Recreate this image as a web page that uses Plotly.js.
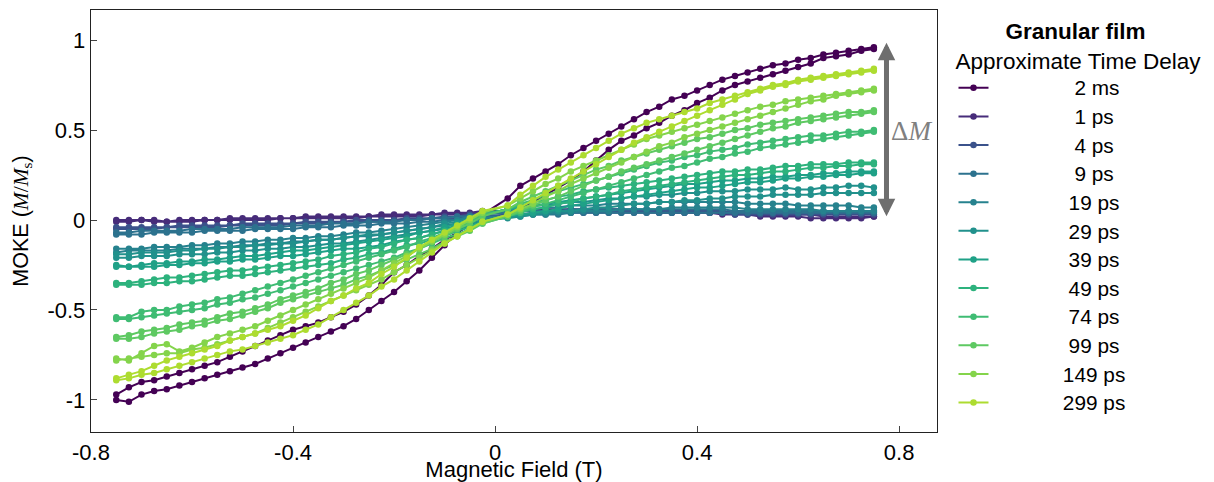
<!DOCTYPE html>
<html><head><meta charset="utf-8">
<script src="https://cdn.plot.ly/plotly-3.0.1.min.js"></script>
<style>html,body{margin:0;padding:0;background:#fff}#chart{width:1214px;height:482px}</style>
</head><body><div id="chart"></div>
<script>
// Magnetic field grid (T), shared by every loop; ascending order (no point at 0)
const field = [-0.75,-0.725,-0.7,-0.675,-0.65,-0.625,-0.6,-0.575,-0.55,-0.525,-0.5,-0.475,-0.45,-0.425,-0.4,-0.375,-0.35,-0.325,-0.3,-0.275,-0.25,-0.225,-0.2,-0.175,-0.15,-0.125,-0.1,-0.075,-0.05,-0.025,
  0.025,0.05,0.075,0.1,0.125,0.15,0.175,0.2,0.225,0.25,0.275,0.3,0.325,0.35,0.375,0.4,0.425,0.45,0.475,0.5,0.525,0.55,0.575,0.6,0.625,0.65,0.675,0.7,0.725,0.75];

const delays = ['2 ms','1 ps','4 ps','9 ps','19 ps','29 ps','39 ps','49 ps','74 ps','99 ps','149 ps','299 ps'];
const colors = ['#440154','#472c7a','#3b528b','#2c728e','#26828e','#21918c','#1fa187','#2db27d','#3fbc73','#5ec962','#84d44b','#addc30'];

// Each loop: branch A and branch B, values listed in ascending field order
const a_2ms = [-1.00,-1.01,-0.97,-0.95,-0.94,-0.92,-0.90,-0.88,-0.86,-0.84,-0.82,-0.80,-0.77,-0.74,-0.71,-0.68,-0.65,-0.62,-0.59,-0.55,-0.50,-0.45,-0.40,-0.34,-0.28,-0.21,-0.14,-0.07,-0.02,0.03,
  0.12,0.19,0.23,0.27,0.31,0.36,0.40,0.44,0.48,0.52,0.56,0.60,0.63,0.67,0.69,0.72,0.75,0.78,0.80,0.82,0.84,0.86,0.87,0.89,0.90,0.92,0.93,0.94,0.95,0.96];
const b_2ms = [-0.97,-0.93,-0.90,-0.89,-0.87,-0.85,-0.83,-0.81,-0.79,-0.76,-0.73,-0.70,-0.67,-0.64,-0.61,-0.59,-0.57,-0.54,-0.51,-0.47,-0.42,-0.36,-0.29,-0.25,-0.20,-0.16,-0.11,-0.07,-0.03,0.00,
  0.03,0.06,0.10,0.14,0.18,0.22,0.27,0.33,0.39,0.44,0.47,0.51,0.54,0.58,0.61,0.65,0.68,0.72,0.75,0.77,0.79,0.81,0.83,0.85,0.87,0.90,0.91,0.92,0.94,0.95];
const a_1ps = [0.00,0.00,0.00,0.00,-0.01,0.00,0.00,0.00,0.00,0.01,0.01,0.01,0.01,0.01,0.01,0.02,0.02,0.02,0.02,0.02,0.02,0.03,0.03,0.03,0.03,0.03,0.04,0.04,0.04,0.05,
  0.05,0.06,0.06,0.06,0.06,0.06,0.06,0.06,0.06,0.06,0.05,0.05,0.05,0.05,0.05,0.05,0.04,0.04,0.04,0.04,0.03,0.03,0.03,0.03,0.03,0.02,0.02,0.02,0.02,0.02];
const b_1ps = [-0.01,-0.01,0.00,-0.01,-0.01,-0.01,-0.01,0.00,0.00,0.00,0.00,0.00,0.00,0.01,0.01,0.01,0.01,0.01,0.01,0.01,0.02,0.02,0.02,0.02,0.02,0.03,0.03,0.03,0.03,0.04,
  0.04,0.05,0.05,0.05,0.05,0.05,0.05,0.05,0.05,0.05,0.05,0.05,0.04,0.04,0.04,0.04,0.04,0.03,0.03,0.03,0.02,0.02,0.02,0.02,0.01,0.01,0.01,0.01,0.01,0.02];
const a_4ps = [-0.04,-0.04,-0.04,-0.04,-0.04,-0.03,-0.03,-0.03,-0.03,-0.03,-0.02,-0.02,-0.02,-0.02,-0.02,-0.01,-0.01,-0.01,-0.01,0.00,0.00,0.00,0.00,0.01,0.01,0.01,0.02,0.02,0.03,0.03,
  0.05,0.05,0.05,0.05,0.05,0.05,0.05,0.05,0.05,0.05,0.05,0.05,0.05,0.05,0.05,0.05,0.05,0.05,0.04,0.04,0.04,0.04,0.04,0.04,0.04,0.04,0.04,0.04,0.04,0.04];
const b_4ps = [-0.05,-0.05,-0.05,-0.05,-0.04,-0.04,-0.04,-0.04,-0.04,-0.03,-0.03,-0.03,-0.03,-0.03,-0.02,-0.02,-0.02,-0.02,-0.01,-0.01,-0.01,-0.01,0.00,0.00,0.00,0.01,0.01,0.01,0.02,0.02,
  0.03,0.03,0.04,0.04,0.04,0.04,0.04,0.04,0.04,0.04,0.04,0.04,0.04,0.04,0.04,0.04,0.04,0.04,0.03,0.03,0.03,0.03,0.03,0.03,0.03,0.03,0.03,0.03,0.03,0.03];
const a_9ps = [-0.07,-0.07,-0.06,-0.06,-0.06,-0.06,-0.05,-0.05,-0.05,-0.05,-0.04,-0.04,-0.04,-0.04,-0.03,-0.03,-0.03,-0.02,-0.02,-0.02,-0.01,-0.01,-0.01,0.00,0.00,0.01,0.01,0.02,0.02,0.03,
  0.04,0.05,0.05,0.05,0.05,0.06,0.06,0.06,0.06,0.06,0.06,0.06,0.06,0.06,0.06,0.06,0.06,0.06,0.05,0.05,0.05,0.05,0.05,0.05,0.05,0.05,0.05,0.05,0.05,0.05];
const b_9ps = [-0.08,-0.08,-0.08,-0.07,-0.07,-0.07,-0.07,-0.06,-0.06,-0.06,-0.06,-0.05,-0.05,-0.05,-0.05,-0.04,-0.04,-0.04,-0.03,-0.03,-0.03,-0.02,-0.02,-0.02,-0.01,-0.01,0.00,0.00,0.01,0.02,
  0.02,0.03,0.03,0.03,0.03,0.04,0.04,0.04,0.04,0.04,0.04,0.04,0.04,0.04,0.04,0.04,0.04,0.04,0.04,0.04,0.04,0.04,0.04,0.04,0.04,0.04,0.04,0.04,0.04,0.04];
const a_19ps = [-0.16,-0.16,-0.16,-0.15,-0.15,-0.15,-0.14,-0.14,-0.13,-0.13,-0.12,-0.12,-0.11,-0.11,-0.10,-0.10,-0.09,-0.09,-0.08,-0.07,-0.07,-0.06,-0.05,-0.04,-0.03,-0.02,-0.01,0.00,0.02,0.04,
  0.05,0.06,0.06,0.07,0.07,0.08,0.08,0.08,0.09,0.09,0.09,0.09,0.10,0.10,0.10,0.10,0.10,0.10,0.10,0.09,0.09,0.09,0.09,0.08,0.08,0.08,0.08,0.08,0.07,0.07];
const b_19ps = [-0.18,-0.17,-0.17,-0.17,-0.17,-0.16,-0.16,-0.16,-0.15,-0.15,-0.14,-0.14,-0.13,-0.13,-0.12,-0.12,-0.11,-0.11,-0.10,-0.09,-0.09,-0.08,-0.07,-0.06,-0.05,-0.04,-0.03,-0.02,-0.01,0.01,
  0.02,0.02,0.03,0.03,0.04,0.04,0.05,0.05,0.05,0.06,0.06,0.06,0.06,0.07,0.07,0.07,0.07,0.07,0.07,0.06,0.06,0.06,0.06,0.06,0.06,0.05,0.05,0.05,0.05,0.05];
const a_29ps = [-0.19,-0.19,-0.18,-0.18,-0.18,-0.17,-0.17,-0.16,-0.16,-0.15,-0.15,-0.14,-0.14,-0.13,-0.13,-0.12,-0.11,-0.11,-0.10,-0.09,-0.08,-0.08,-0.07,-0.06,-0.05,-0.04,-0.02,-0.01,0.01,0.03,
  0.06,0.07,0.08,0.08,0.09,0.10,0.10,0.11,0.12,0.12,0.13,0.13,0.14,0.14,0.15,0.15,0.16,0.16,0.16,0.17,0.17,0.17,0.18,0.17,0.17,0.18,0.18,0.19,0.19,0.18];
const b_29ps = [-0.21,-0.21,-0.20,-0.20,-0.20,-0.19,-0.19,-0.19,-0.18,-0.18,-0.17,-0.17,-0.16,-0.16,-0.15,-0.15,-0.14,-0.13,-0.13,-0.12,-0.11,-0.10,-0.09,-0.08,-0.07,-0.06,-0.05,-0.03,-0.02,0.00,
  0.01,0.02,0.03,0.04,0.05,0.05,0.06,0.07,0.07,0.08,0.09,0.09,0.10,0.10,0.11,0.11,0.12,0.12,0.13,0.13,0.13,0.14,0.14,0.14,0.14,0.15,0.15,0.15,0.15,0.15];
const a_39ps = [-0.25,-0.26,-0.25,-0.24,-0.24,-0.23,-0.23,-0.22,-0.22,-0.21,-0.20,-0.20,-0.19,-0.18,-0.17,-0.17,-0.16,-0.15,-0.14,-0.13,-0.12,-0.11,-0.10,-0.09,-0.07,-0.06,-0.04,-0.02,0.00,0.03,
  0.06,0.07,0.08,0.09,0.10,0.11,0.12,0.13,0.14,0.15,0.16,0.17,0.18,0.19,0.20,0.20,0.21,0.22,0.22,0.23,0.23,0.24,0.24,0.25,0.25,0.26,0.26,0.27,0.27,0.27];
const b_39ps = [-0.26,-0.26,-0.26,-0.26,-0.25,-0.25,-0.24,-0.24,-0.23,-0.23,-0.22,-0.22,-0.21,-0.20,-0.20,-0.19,-0.18,-0.17,-0.16,-0.16,-0.15,-0.14,-0.12,-0.11,-0.10,-0.08,-0.06,-0.05,-0.03,-0.01,
  0.02,0.03,0.04,0.05,0.06,0.08,0.09,0.10,0.11,0.12,0.13,0.14,0.15,0.16,0.17,0.18,0.18,0.19,0.20,0.21,0.21,0.22,0.23,0.23,0.24,0.24,0.25,0.25,0.26,0.26];
const a_49ps = [-0.35,-0.35,-0.34,-0.33,-0.32,-0.32,-0.31,-0.30,-0.29,-0.28,-0.28,-0.27,-0.26,-0.25,-0.24,-0.23,-0.22,-0.20,-0.19,-0.18,-0.16,-0.15,-0.13,-0.11,-0.10,-0.08,-0.06,-0.03,-0.01,0.03,
  0.06,0.08,0.10,0.11,0.13,0.14,0.16,0.17,0.18,0.19,0.20,0.21,0.22,0.23,0.24,0.25,0.26,0.27,0.27,0.28,0.28,0.29,0.30,0.30,0.31,0.31,0.31,0.32,0.32,0.32];
const b_49ps = [-0.36,-0.36,-0.36,-0.35,-0.35,-0.34,-0.34,-0.33,-0.32,-0.31,-0.31,-0.30,-0.29,-0.28,-0.27,-0.26,-0.25,-0.24,-0.22,-0.21,-0.19,-0.18,-0.16,-0.14,-0.13,-0.11,-0.09,-0.06,-0.04,-0.01,
  0.02,0.04,0.06,0.07,0.09,0.10,0.12,0.13,0.14,0.16,0.17,0.18,0.19,0.20,0.21,0.22,0.23,0.24,0.25,0.25,0.26,0.27,0.27,0.28,0.29,0.29,0.30,0.30,0.31,0.31];
const a_74ps = [-0.54,-0.54,-0.51,-0.50,-0.50,-0.48,-0.47,-0.46,-0.44,-0.43,-0.41,-0.39,-0.37,-0.35,-0.33,-0.31,-0.29,-0.27,-0.25,-0.23,-0.21,-0.19,-0.17,-0.15,-0.12,-0.10,-0.07,-0.04,-0.01,0.03,
  0.06,0.09,0.11,0.14,0.16,0.18,0.20,0.22,0.24,0.26,0.28,0.30,0.32,0.33,0.35,0.36,0.38,0.39,0.40,0.42,0.43,0.44,0.45,0.46,0.47,0.47,0.48,0.49,0.49,0.50];
const b_74ps = [-0.55,-0.55,-0.54,-0.53,-0.52,-0.51,-0.50,-0.49,-0.47,-0.46,-0.44,-0.43,-0.41,-0.39,-0.37,-0.35,-0.33,-0.31,-0.29,-0.27,-0.25,-0.23,-0.21,-0.18,-0.16,-0.13,-0.10,-0.08,-0.05,-0.02,
  0.02,0.04,0.07,0.09,0.11,0.13,0.15,0.17,0.19,0.21,0.23,0.25,0.27,0.29,0.30,0.32,0.34,0.35,0.37,0.38,0.40,0.41,0.42,0.43,0.44,0.45,0.46,0.47,0.48,0.49];
const a_99ps = [-0.65,-0.64,-0.62,-0.61,-0.60,-0.58,-0.57,-0.56,-0.54,-0.52,-0.51,-0.49,-0.47,-0.44,-0.42,-0.40,-0.38,-0.35,-0.33,-0.30,-0.28,-0.25,-0.22,-0.19,-0.16,-0.12,-0.09,-0.05,-0.02,0.02,
  0.06,0.10,0.13,0.16,0.19,0.22,0.25,0.28,0.30,0.33,0.35,0.37,0.39,0.41,0.43,0.45,0.46,0.48,0.50,0.51,0.53,0.54,0.55,0.56,0.57,0.58,0.59,0.60,0.60,0.61];
const b_99ps = [-0.66,-0.66,-0.65,-0.63,-0.62,-0.61,-0.59,-0.58,-0.56,-0.55,-0.53,-0.51,-0.49,-0.46,-0.44,-0.42,-0.40,-0.38,-0.36,-0.33,-0.31,-0.28,-0.25,-0.22,-0.19,-0.16,-0.12,-0.09,-0.06,-0.02,
  0.02,0.05,0.08,0.11,0.13,0.16,0.19,0.22,0.24,0.27,0.29,0.31,0.33,0.35,0.37,0.39,0.41,0.43,0.45,0.47,0.49,0.51,0.52,0.54,0.55,0.56,0.57,0.58,0.59,0.60];
const a_149ps = [-0.77,-0.78,-0.74,-0.70,-0.69,-0.73,-0.71,-0.68,-0.65,-0.63,-0.61,-0.59,-0.56,-0.53,-0.50,-0.47,-0.44,-0.41,-0.38,-0.35,-0.32,-0.28,-0.24,-0.20,-0.16,-0.12,-0.08,-0.04,0.00,0.04,
  0.08,0.12,0.16,0.20,0.23,0.27,0.30,0.33,0.36,0.39,0.42,0.45,0.47,0.49,0.51,0.53,0.55,0.57,0.59,0.61,0.63,0.64,0.66,0.67,0.68,0.69,0.70,0.71,0.72,0.73];
const b_149ps = [-0.78,-0.77,-0.76,-0.75,-0.74,-0.74,-0.72,-0.71,-0.69,-0.67,-0.65,-0.63,-0.60,-0.57,-0.54,-0.51,-0.48,-0.45,-0.42,-0.39,-0.36,-0.33,-0.29,-0.25,-0.21,-0.17,-0.13,-0.09,-0.05,-0.01,
  0.03,0.06,0.09,0.13,0.16,0.20,0.23,0.26,0.29,0.32,0.35,0.38,0.41,0.43,0.46,0.48,0.50,0.52,0.54,0.56,0.58,0.60,0.62,0.64,0.66,0.67,0.69,0.70,0.71,0.72];
const a_299ps = [-0.88,-0.86,-0.84,-0.81,-0.78,-0.76,-0.74,-0.72,-0.70,-0.67,-0.65,-0.63,-0.61,-0.59,-0.56,-0.53,-0.49,-0.45,-0.42,-0.38,-0.35,-0.30,-0.26,-0.21,-0.15,-0.11,-0.07,-0.03,0.01,0.05,
  0.08,0.14,0.19,0.24,0.28,0.32,0.36,0.40,0.44,0.48,0.51,0.54,0.56,0.58,0.60,0.62,0.65,0.67,0.69,0.71,0.73,0.75,0.76,0.78,0.79,0.80,0.81,0.82,0.83,0.84];
const b_299ps = [-0.89,-0.88,-0.86,-0.85,-0.83,-0.81,-0.79,-0.77,-0.75,-0.73,-0.72,-0.70,-0.68,-0.66,-0.64,-0.61,-0.58,-0.54,-0.50,-0.46,-0.42,-0.37,-0.33,-0.28,-0.23,-0.18,-0.13,-0.09,-0.05,-0.01,
  0.03,0.07,0.11,0.15,0.19,0.23,0.27,0.31,0.35,0.39,0.43,0.46,0.49,0.52,0.55,0.58,0.61,0.64,0.67,0.70,0.72,0.74,0.75,0.77,0.78,0.79,0.80,0.81,0.82,0.83];

const branchA = [a_2ms,a_1ps,a_4ps,a_9ps,a_19ps,a_29ps,a_39ps,a_49ps,a_74ps,a_99ps,a_149ps,a_299ps];
const branchB = [b_2ms,b_1ps,b_4ps,b_9ps,b_19ps,b_29ps,b_39ps,b_49ps,b_74ps,b_99ps,b_149ps,b_299ps];

const xTickVals = [-0.8,-0.4,0,0.4,0.8];
const xTickText = ['-0.8','-0.4','0','0.4','0.8'];
const yTickVals = [-1,-0.5,0,0.5,1];
const yTickText = ['-1','-0.5','0','0.5','1'];

const legendTitle1 = 'Granular film';
const legendTitle2 = 'Approximate Time Delay';

const FONT = '"Liberation Sans", Arial, Helvetica, sans-serif';
const SERIF = '"Liberation Serif", "Times New Roman", serif';
const LEG_SIZE = 19.7;   // sets the legend row pitch
const LABEL_SIZE = 20.8; // drawn size of legend labels
const TITLE_SIZE = 22.5;

// centre the legend labels / title by padding with no-break spaces
const ctx = document.createElement('canvas').getContext('2d');
function textW(s, font){ ctx.font = font; return ctx.measureText(s).width; }
function centred(s){
  const f = LABEL_SIZE + 'px "Liberation Sans"';
  const w = textW(s, f), nb = textW('\u00a0', f) || LABEL_SIZE*0.278;
  const n = Math.max(0, Math.round((102 - w/2)/nb));
  return '<span style="font-size:' + LABEL_SIZE + 'px">' + '\u00a0'.repeat(n) + s + '</span>';
}
const tW1 = textW(legendTitle1, 'bold ' + TITLE_SIZE + 'px "Liberation Sans"');
const tW2 = textW(legendTitle2, TITLE_SIZE + 'px "Liberation Sans"');
const tNb = textW('\u00a0', 'bold ' + TITLE_SIZE + 'px "Liberation Sans"') || TITLE_SIZE*0.278;
const titlePad = '\u00a0'.repeat(Math.max(0, Math.round((tW2 - tW1)/2/tNb)));

const rev = a => a.slice().reverse();
const traces = delays.map((d,i)=>({
  type:'scatter', mode:'lines+markers',
  x: field.concat(rev(field)),
  y: branchA[i].concat(rev(branchB[i])),
  name: centred(d),
  line:{color:colors[i], width:2},
  marker:{color:colors[i], size:6.5},
  hoverinfo:'skip'
}));

const axisCommon = {
  ticks:'inside', ticklen:6, tickwidth:1, tickcolor:'#444',
  showline:true, linecolor:'#222', linewidth:1.3, mirror:true,
  showgrid:false, zeroline:false,
  tickfont:{family:FONT, size:22, color:'#000'}
};

const layout = {
  width:1214, height:482,
  margin:{l:91, r:277, t:10, b:50, pad:0},
  paper_bgcolor:'#ffffff', plot_bgcolor:'#ffffff',
  font:{family:FONT, size:21, color:'#000'},
  showlegend:true,
  xaxis:Object.assign({}, axisCommon, {
    range:[-0.8,0.875], tickmode:'array', tickvals:xTickVals, ticktext:xTickText,
    title:{text:'Magnetic Field (T)', standoff:0, font:{family:FONT, size:22, color:'#000'}}
  }),
  yaxis:Object.assign({}, axisCommon, {
    range:[-1.178,1.167], tickmode:'array', tickvals:yTickVals, ticktext:yTickText,
    title:{text:'MOKE (<span style="font-family:\'Liberation Serif\'"><i>M</i>/<i>M</i><sub>s</sub></span>)', standoff:13, font:{family:FONT, size:21.5, color:'#000'}}
  }),
  legend:{
    x:1.0195, xanchor:'left', y:1, yanchor:'top',
    bgcolor:'rgba(0,0,0,0)', borderwidth:0,
    font:{family:FONT, size:LEG_SIZE, color:'#000'},
    itemwidth:30, traceorder:'normal',
    title:{text:'<b>' + titlePad + legendTitle1 + '</b><br>' + legendTitle2, side:'top', font:{family:FONT, size:TITLE_SIZE, color:'#000'}}
  },
  annotations:[
    {x:0.775, y:0.985, ax:0.775, ay:0.012, xref:'x', yref:'y', axref:'x', ayref:'y',
     text:'', showarrow:true, arrowhead:2, startarrowhead:2, arrowside:'end+start',
     arrowsize:0.7, startarrowsize:0.7, arrowwidth:5, arrowcolor:'#6e6e6e', standoff:0, startstandoff:0},
    {x:0.824, y:0.494, xref:'x', yref:'y', text:'\u0394<i>M</i>', showarrow:false,
     xanchor:'center', yanchor:'middle', font:{family:SERIF, size:27, color:'#808080'}}
  ]
};

Plotly.newPlot('chart', traces, layout, {displayModeBar:false, staticPlot:true});
</script>
</body></html>
